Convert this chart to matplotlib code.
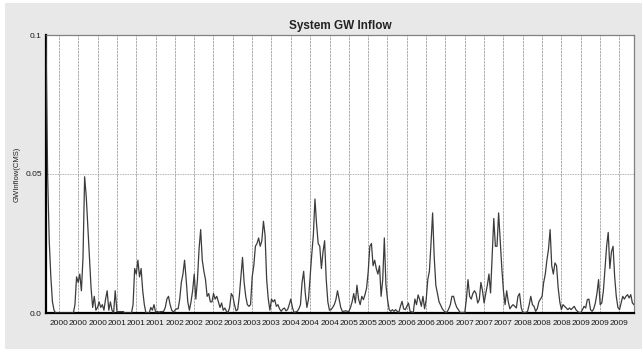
import matplotlib
matplotlib.use("Agg")
import matplotlib.pyplot as plt
import matplotlib.dates as mdates
import numpy as np
import pandas as pd
from matplotlib.patches import Rectangle

# GW inflow (CMS), about 36 readings per year (one per ~10 days)
# 1999 starts in mid October (index 28 of that year)
y1999 = [0.1, 0.05, 0.026, 0.013, 0.004, 0.001, 0.0, 0.0]
y2000 = [0, 0, 0, 0, 0, 0, 0, 0, 0, 0, 0.003, 0.013, 0.011, 0.014, 0.008, 0.02,
         0.049, 0.042, 0.031, 0.02, 0.009, 0.002, 0.006, 0.001, 0.002, 0.004,
         0.002, 0.003, 0.001, 0.005, 0.008, 0.001, 0.004, 0.001, 0.0, 0.008]
y2001 = [0.0005, 0.0005, 0.0005, 0.0005, 0.0005, 0, 0, 0, 0, 0, 0.003, 0.016,
         0.014, 0.019, 0.013, 0.016, 0.008, 0.003, 0, 0, 0, 0.002, 0.001, 0.003,
         0.0003, 0.0006, 0.0003, 0.0005, 0.0005, 0.0006, 0.002, 0.005, 0.006,
         0.003, 0.001, 0.0003]
y2002 = [0.001, 0.0015, 0.0015, 0.005, 0.011, 0.014, 0.019, 0.012, 0.004, 0.001,
         0.004, 0.008, 0.014, 0.005, 0.012, 0.023, 0.030, 0.019, 0.015, 0.012,
         0.006, 0.007, 0.004, 0.004, 0.007, 0.005, 0.006, 0.004, 0.002, 0.0036,
         0.001, 0.0018, 0.0006, 0.0002, 0.002, 0.007]
y2003 = [0.006, 0.003, 0.0008, 0.0012, 0.006, 0.013, 0.020, 0.011, 0.006, 0.003,
         0.0024, 0.003, 0.013, 0.017, 0.024, 0.025, 0.027, 0.024, 0.026, 0.033,
         0.028, 0.012, 0.005, 0.001, 0.005, 0.004, 0.0048, 0.0024, 0.003, 0.0015,
         0.0006, 0.0014, 0.0018, 0.0008, 0.0012, 0.003]
y2004 = [0.005, 0.002, 0.0002, 0.0004, 0.0006, 0.0015, 0.003, 0.011, 0.015, 0.007,
         0.002, 0.005, 0.013, 0.021, 0.028, 0.041, 0.032, 0.025, 0.024, 0.016,
         0.022, 0.026, 0.012, 0.004, 0.001, 0.0012, 0.002, 0.003, 0.0048, 0.008,
         0.005, 0.002, 0.0006, 0.0006, 0.0008, 0.0006]
y2005 = [0.0006, 0.002, 0.004, 0.007, 0.0036, 0.010, 0.005, 0.003, 0.006, 0.0048,
         0.0066, 0.009, 0.015, 0.024, 0.025, 0.017, 0.019, 0.016, 0.014, 0.017,
         0.006, 0.012, 0.027, 0.010, 0.0048, 0.0012, 0.0006, 0.0012, 0.0006,
         0.0012, 0.0006, 0.0002, 0.0024, 0.0042, 0.0015, 0.0012]
y2006 = [0.0024, 0.0036, 0.0006, 0.0004, 0.0002, 0.005, 0.003, 0.0065, 0.0048,
         0.0024, 0.006, 0.0015, 0.0048, 0.012, 0.015, 0.025, 0.036, 0.020, 0.010,
         0.007, 0.004, 0.0028, 0.0015, 0.0008, 0.0002, 0.0004, 0.0015, 0.003,
         0.006, 0.006, 0.0036, 0.002, 0.0012, 0.0002, 0.0002, 0.0002]
y2007 = [0.0002, 0.005, 0.012, 0.006, 0.005, 0.007, 0.008, 0.007, 0.0036, 0.0048,
         0.011, 0.008, 0.0036, 0.007, 0.010, 0.014, 0.0072, 0.021, 0.034, 0.024,
         0.024, 0.036, 0.026, 0.016, 0.008, 0.003, 0.008, 0.004, 0.0015, 0.0024,
         0.003, 0.0024, 0.0018, 0.006, 0.007, 0.002]
y2008 = [0.0002, 0.0002, 0.0002, 0.0006, 0.003, 0.006, 0.003, 0.0024, 0.0006,
         0.0015, 0.004, 0.005, 0.006, 0.011, 0.014, 0.019, 0.023, 0.030, 0.017,
         0.014, 0.018, 0.017, 0.009, 0.004, 0.0012, 0.003, 0.0024, 0.0018, 0.0012,
         0.0018, 0.0012, 0.0018, 0.0024, 0.0012, 0.0006, 0.0002]
y2009 = [0.0002, 0.0012, 0.0024, 0.0018, 0.0048, 0.005, 0.0012, 0.0006, 0.0015,
         0.0036, 0.007, 0.012, 0.003, 0.0036, 0.008, 0.016, 0.024, 0.029, 0.016,
         0.022, 0.024, 0.013, 0.006, 0.002, 0.0012, 0.0036, 0.006, 0.005, 0.006,
         0.0066, 0.0054, 0.0066, 0.0036, 0.003]

years = [1999, 2000, 2001, 2002, 2003, 2004, 2005, 2006, 2007, 2008, 2009]
series = [y1999, y2000, y2001, y2002, y2003, y2004, y2005, y2006, y2007, y2008, y2009]
first_index = {1999: 28}

yticks = [0.0, 0.05, 0.1]
ytick_labels = ["0.0", "0.05", "0.1"]

# build dates (one step = 1/36 year)
dates = []
values = []
for yr, vals in zip(years, series):
    k0 = first_index.get(yr, 0)
    for i, v in enumerate(vals):
        d = pd.Timestamp(year=yr, month=1, day=1) + pd.Timedelta(days=(k0 + i) * 365.25 / 36)
        dates.append(d)
        values.append(v)
dates = pd.to_datetime(dates)

fig = plt.figure(figsize=(6.42, 3.52), dpi=100, facecolor="white")
# grey panel with a thin white margin
fig.patches.append(Rectangle((5 / 642, 3 / 352), 1 - 5 / 642, 1 - 6 / 352,
                             transform=fig.transFigure, facecolor="#e8e8e8",
                             edgecolor="none", zorder=-10))

ax = fig.add_axes([46 / 642, 1 - 313 / 352, (634 - 46) / 642, (313 - 35) / 352])
ax.set_zorder(1)
ax.set_facecolor("white")

ax.plot(dates, values, color="#3c3c3c", linewidth=0.9, zorder=3)

ax.set_xlim(dates[0], dates[-1])
ax.set_ylim(0, 0.1)
ax.set_yticks(yticks)
ax.set_yticklabels(ytick_labels)

ax.xaxis.set_major_locator(mdates.MonthLocator(bymonth=[1, 5, 9]))
ax.xaxis.set_major_formatter(mdates.DateFormatter("%Y"))

ax.grid(True, axis="x", color="#a0a0a0", linestyle=(0, (3, 1)), linewidth=0.6)
ax.grid(True, axis="y", color="#9a9a9a", linestyle=(0, (1, 1)), linewidth=0.6)
ax.set_axisbelow(True)

for side in ["top", "right"]:
    ax.spines[side].set_color("#808080")
    ax.spines[side].set_linewidth(0.9)
for side in ["left", "bottom"]:
    ax.spines[side].set_color("black")
    ax.spines[side].set_linewidth(1.6)

ax.tick_params(axis="both", length=0, labelsize=6, colors="#1a1a1a", pad=3)
ax.tick_params(axis="x", pad=5)

ax.set_title("System GW Inflow", fontsize=8.5, fontweight="bold",
             family="Liberation Sans", color="#222222", pad=4)
ax.set_ylabel("GWInflow(CMS)", fontsize=5.5, family="Liberation Sans",
              color="#222222", labelpad=3)
for lbl in ax.get_xticklabels() + ax.get_yticklabels():
    lbl.set_family("Liberation Sans")

fig.savefig("out.png", dpi=100, facecolor=fig.get_facecolor())
